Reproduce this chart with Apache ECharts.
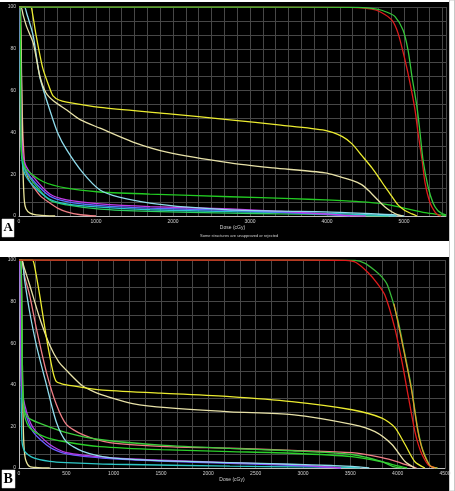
<!DOCTYPE html>
<html>
<head>
<meta charset="utf-8">
<script src="https://cdn.jsdelivr.net/npm/echarts@6/dist/echarts.min.js"></script>
<style>
html,body{margin:0;padding:0;background:#fff;}
#c{width:455px;height:491px;}
</style>
</head>
<body>
<div id="c"></div>
<script>
// ---------- Panel A data: [dose cGy, volume %] ----------
const A_red = [[0,100],[3000,100],[4300,99.8],[4584,99],[4700,97.5],[4840,93.8],[4922,87.5],[5013,74.6],[5078,63.6],[5143,50.7],[5182,39.7],[5234,26.8],[5273,15.8],[5338,6.2],[5400,2],[5442,0.5],[5480,0]];
const A_green = [[0,100],[3000,100],[4400,99.8],[4650,99],[4780,97.5],[4883,95.4],[4987,89],[5052,79.4],[5104,66.5],[5169,52],[5208,39.7],[5247,26.8],[5312,14],[5377,6.2],[5440,2.5],[5494,1.2],[5545,0.5]];
const A_yellow = [[0,100],[150,100],[175,97],[217,87.5],[307,71],[400,61],[442,57.5],[520,55.5],[620,54.5],[1052,52],[1920,49],[2740,46],[3400,43.5],[3974,41],[4200,38],[4325,34.5],[4450,29],[4584,23],[4680,18],[4753,14],[4840,9.5],[4922,5.3],[5010,2.6],[5104,1],[5170,0]];
const A_cream = [[0,100],[25,100],[55,96],[100,90.5],[186,82.6],[270,67],[350,59],[450,55],[620,50.7],[800,46],[1052,42],[1480,35.4],[1920,30.6],[2740,25.4],[3300,23],[3974,20.6],[4325,17],[4450,15],[4532,12.4],[4650,8],[4753,4.3],[4840,2],[4922,0.5],[4980,0]];
const A_cyan = [[0,100],[70,100],[100,97],[186,86],[270,66.5],[400,50.7],[500,40],[620,31.6],[830,20.6],[1052,12.4],[1300,9],[1700,6.2],[2200,4.2],[2740,2.9],[3400,2.3],[3974,2],[4500,1.2],[4922,0.4],[5000,0]];
const A_quick = [[0,100],[15,100],[25,90],[35,60],[45,35],[55,18],[70,7],[90,3.5],[143,1.4],[260,0.4],[470,0]];
const A_pink = [[0,100],[10,100],[30,70],[50,40],[78,23.4],[120,18],[185,14],[280,9.5],[400,6.2],[500,3.8],[620,2],[800,0.6],[1000,0]];
const A_magenta = [[0,100],[12,100],[25,50],[40,33],[78,25],[186,18.7],[400,10.5],[620,7.7],[1052,5.8],[1700,4.5],[2740,3.4],[3400,2.2],[3974,1],[4300,0.2],[4500,0]];
const A_blue = [[0,100],[12,100],[23,50],[38,31],[78,23],[186,17],[400,9.5],[620,6.9],[1052,5],[1700,3.8],[2740,2.7],[3400,1.8],[3974,0.8],[4300,0]];
const A_teal = [[0,100],[10,100],[20,45],[35,28],[78,20],[186,14.5],[400,8],[620,5.8],[1052,4.2],[1700,3],[2740,2.1],[3400,1.7],[3974,1.3],[4500,0.6],[4900,0]];
const A_greenLow = [[0,100],[12,100],[22,50],[40,30],[78,22],[186,16],[400,7.5],[620,5.3],[1052,3.3],[1700,2.2],[2740,1.4],[3400,1],[3974,0.7],[4500,0.2],[4800,0]];
const A_greenLong = [[0,100],[15,100],[22,60],[30,32],[60,25],[100,22],[316,16.4],[620,13.3],[1009,11.6],[1700,10.5],[2740,9.2],[3541,8.3],[3974,7.7],[4407,6.9],[4753,5.7],[5013,3.7],[5273,1.6],[5490,0.5],[5545,0.2]];

// ---------- Panel B data ----------
const B_red = [[0,100],[3000,100],[3450,99.8],[3560,98.8],[3686,94],[3780,89],[3866,83],[3971,67],[4046,51],[4110,35],[4182,17.5],[4220,11],[4257,6.5],[4320,1.7],[4395,0]];
const B_green = [[0,100],[3000,100],[3550,99.8],[3650,98.5],[3760,95],[3830,92],[3892,88],[3998,72],[4071,56],[4146,38.6],[4210,19.4],[4250,11],[4284,6.5],[4330,2],[4356,0.7],[4420,0]];
const B_orange = [[3960,79],[3998,71],[4071,55],[4146,37.6],[4210,18.6],[4250,10.5],[4284,6],[4330,1.8],[4356,0.6],[4420,0]];
const B_yellow = [[0,100],[140,100],[160,98],[219,83],[290,62.6],[360,46],[395,41.5],[450,40.5],[500,40],[853,37.6],[1500,36],[2228,34.3],[2883,31.9],[3517,28],[3834,24],[3971,19.4],[4078,11.3],[4182,3],[4288,0]];
const B_cream = [[0,100],[30,100],[50,97],[113,88],[219,72],[325,59],[420,51],[500,47],[670,39.5],[800,36.5],[959,34],[1200,31],[1560,29],[2228,27],[2883,25.7],[3517,21],[3760,17.5],[3940,11.3],[4078,3.1],[4180,0]];
const B_cyan = [[0,100],[30,100],[60,90],[113,75],[184,59],[290,40],[395,22],[500,12.7],[673,8],[959,5],[1500,3.5],[2228,2.6],[2883,1.8],[3300,1.2],[3517,0.8],[3700,0]];
const B_pink = [[0,100],[25,100],[60,92],[113,83],[184,67],[290,46],[395,30.5],[500,21],[673,16],[959,12.2],[1560,10.3],[2228,9.5],[2883,8.5],[3517,7.4],[3834,5],[4000,3],[4078,1.7],[4200,0]];
const B_greenHi = [[0,100],[20,100],[30,70],[40,40],[60,27],[120,23.5],[250,21],[500,17],[853,13.7],[1500,11],[2228,9.4],[2883,8.3],[3517,6.5],[3834,3.1],[3950,0.7],[4050,0]];
const B_greenLo = [[0,100],[20,100],[30,60],[40,35],[60,25],[120,19],[293,14.6],[500,12.5],[853,10.3],[1500,8.8],[2228,7.9],[2883,7.1],[3517,5.5],[3834,3],[4000,1],[4100,0]];
const B_purple = [[0,100],[10,100],[20,60],[25,43],[60,30.5],[148,19.4],[325,11.3],[500,7.4],[959,5],[1500,3.8],[2228,2.6],[2883,1.6],[3200,0.7],[3400,0]];
const B_blue = [[0,100],[10,100],[18,55],[25,40],[60,28],[148,17.5],[325,10],[500,6.8],[959,4.5],[1500,3.3],[2228,2.2],[2883,1.3],[3200,0.5],[3400,0]];
const B_teal = [[0,100],[15,100],[22,50],[30,14],[60,8],[148,5],[325,3.2],[500,2.6],[1000,1.8],[2228,0.9],[3000,0.5],[3500,0.3],[3600,0]];
const B_quick = [[0,100],[20,100],[30,75],[38,40],[45,20],[55,9],[70,4],[113,0.7],[200,0.2],[325,0]];

// axis ticks
const A_xMax = 5545, A_xStep = 1000;
const B_xMax = 4500, B_xStep = 500;
const yStep = 20;

const chart = echarts.init(document.getElementById('c'), null, {renderer:'canvas'});
const FONT = 'Liberation Sans';
const gridColor = '#474747';
const axisColor = '#bdbdbd';
const labelColor = '#cfcfcf';

function xAx(idx, max, step, minor){
  return {
    type:'value', gridIndex: idx, min:0, max:max, interval: step,
    name:'Dose (cGy)', nameLocation:'middle', nameGap: idx===0?8:9,
    nameTextStyle:{color:labelColor, fontSize:5, fontFamily:FONT},
    axisLine:{show:true, lineStyle:{color:axisColor, width:1}},
    axisTick:{show:false},
    axisLabel:{color:labelColor, fontSize:5, fontFamily:FONT, margin:3,
      formatter: v => (v % step === 0 ? String(v) : '')},
    splitLine:{show:true, lineStyle:{color:gridColor, width:1}},
    minorTick:{show:false, splitNumber:minor},
    minorSplitLine:{show:true, lineStyle:{color:gridColor, width:1}}
  };
}
function yAx(idx){
  return {
    type:'value', gridIndex: idx, min:0, max:100, interval: yStep,
    name:'Ratio of Total Structure Volume (%)', nameLocation:'middle', nameGap:13, nameRotate:90,
    nameTextStyle:{color:labelColor, fontSize:4, fontFamily:FONT},
    axisLine:{show:true, lineStyle:{color:axisColor, width:1}},
    axisTick:{show:false},
    axisLabel:{color:labelColor, fontSize:5, fontFamily:FONT, margin:3},
    splitLine:{show:true, lineStyle:{color:gridColor, width:1}},
    minorTick:{show:false, splitNumber:3},
    minorSplitLine:{show:true, lineStyle:{color:gridColor, width:1}}
  };
}
function ln(data, color, gi, w){
  return {type:'line', data:data, xAxisIndex:gi, yAxisIndex:gi, showSymbol:false, smooth:0.25,
    lineStyle:{color:color, width:w||1.3}, itemStyle:{color:color}, animation:false, silent:true};
}

const series = [
  ln(A_pink,'#f07f86',0), ln(A_quick,'#e8e49a',0), ln(A_greenLow,'#2fd060',0), ln(A_teal,'#29c6c8',0),
  ln(A_blue,'#5d6cff',0), ln(A_magenta,'#c23ce8',0), ln(A_greenLong,'#22cc22',0),
  ln(A_cyan,'#8fdcec',0), ln(A_cream,'#e8e2a8',0), ln(A_yellow,'#ecec30',0),
  ln(A_red,'#dd1c1c',0), ln(A_green,'#36c83a',0),
  ln(B_quick,'#e8e49a',1), ln(B_teal,'#2ec8c8',1), ln(B_blue,'#6a5cff',1), ln(B_purple,'#b43ce8',1),
  ln(B_greenLo,'#2bd02b',1), ln(B_pink,'#f07f86',1), ln(B_greenHi,'#3ccc3c',1),
  ln(B_cyan,'#8fdcec',1), ln(B_cream,'#e8e2a8',1), ln(B_yellow,'#ecec30',1),
  ln(B_green,'#38b838',1), ln(B_red,'#e01c1c',1), ln(B_orange,'#e89a2c',1,1.2)
];

chart.setOption({
  animation:false,
  backgroundColor:'#ffffff',
  grid:[
    {left:19, top:7, width:427, height:209, containLabel:false, outerBoundsMode:'none'},
    {left:19, top:260, width:426, height:208, containLabel:false, outerBoundsMode:'none'}
  ],
  xAxis:[xAx(0, A_xMax, A_xStep, 6), xAx(1, B_xMax, B_xStep, 3)],
  yAxis:[yAx(0), yAx(1)],
  graphic:[
    {type:'rect', z:-100, shape:{x:0,y:2,width:449,height:239}, style:{fill:'#000'}},
    {type:'rect', z:-100, shape:{x:0,y:257,width:449,height:234}, style:{fill:'#000'}},
    {type:'rect', z:-100, shape:{x:449.5,y:0,width:5,height:491}, style:{fill:'#fff', stroke:'#c8c8c8', lineWidth:1}},
    {type:'text', z:10, left:200, top:234, style:{text:'Some structures are unapproved or rejected', fill:labelColor, font:'4px "Liberation Sans"'}},
    {type:'rect', z:10, shape:{x:2,y:219,width:12,height:18}, style:{fill:'#fff', stroke:'#ddd', lineWidth:0.5}},
    {type:'text', z:11, left:3.5, top:221, style:{text:'A', fill:'#000', font:'bold 13px "Liberation Serif"'}},
    {type:'rect', z:10, shape:{x:2,y:470,width:13,height:18}, style:{fill:'#fff', stroke:'#ddd', lineWidth:0.5}},
    {type:'text', z:11, left:3.5, top:472, style:{text:'B', fill:'#000', font:'bold 14px "Liberation Serif"'}}
  ],
  series: series
});
</script>
</body>
</html>
